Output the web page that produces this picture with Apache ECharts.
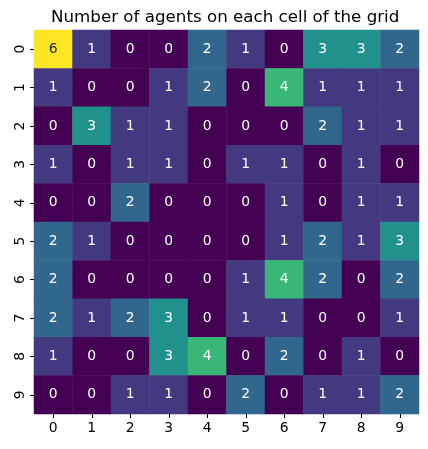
<!DOCTYPE html>
<html>
<head>
<meta charset="utf-8">
<script src="https://cdn.jsdelivr.net/npm/echarts@6/dist/echarts.min.js"></script>
<style>html,body{margin:0;padding:0;background:#fff;}#c{width:428px;height:449px;}</style>
</head>
<body>
<div id="c"></div>
<script>
const xLabels = ['0','1','2','3','4','5','6','7','8','9'];
const yLabels = ['0','1','2','3','4','5','6','7','8','9'];
const grid = [
  [6,1,0,0,2,1,0,3,3,2],
  [1,0,0,1,2,0,4,1,1,1],
  [0,3,1,1,0,0,0,2,1,1],
  [1,0,1,1,0,1,1,0,1,0],
  [0,0,2,0,0,0,1,0,1,1],
  [2,1,0,0,0,0,1,2,1,3],
  [2,0,0,0,0,1,4,2,0,2],
  [2,1,2,3,0,1,1,0,0,1],
  [1,0,0,3,4,0,2,0,1,0],
  [0,0,1,1,0,2,0,1,1,2]
];
const viridis = ['#440154','#482475','#414487','#355f8d','#2a788e','#21918c','#22a884','#44bf70','#7ad151','#bddf26','#fde725'];

const data = [];
grid.forEach((row, r) => row.forEach((v, c) => {
  data.push({ value: [c, r, v], label: { color: v >= 5 ? '#262626' : '#ffffff' } });
}));

const chart = echarts.init(document.getElementById('c'));
chart.setOption({
  animation: false,
  title: {
    text: 'Number of agents on each cell of the grid',
    left: 46, top: 4,
    textStyle: { fontFamily: 'DejaVu Sans', fontSize: 16.7, fontWeight: 'normal', color: '#000' }
  },
  grid: { left: 34, top: 30, width: 385, height: 384 },
  xAxis: {
    type: 'category', data: xLabels, position: 'bottom',
    axisLine: { show: false },
    axisTick: { show: true, alignWithLabel: true, length: 4, lineStyle: { color: '#000' } },
    axisLabel: { fontFamily: 'DejaVu Sans', fontSize: 13.9, color: '#000', margin: 7 },
    splitLine: { show: false }
  },
  yAxis: {
    type: 'category', data: yLabels, inverse: true,
    axisLine: { show: false },
    axisTick: { show: true, alignWithLabel: true, length: 4, lineStyle: { color: '#000' } },
    axisLabel: { fontFamily: 'DejaVu Sans', fontSize: 13.9, color: '#000', rotate: 90, margin: 7 },
    splitLine: { show: false }
  },
  visualMap: { show: false, min: 0, max: 6, dimension: 2, inRange: { color: viridis } },
  series: [{
    type: 'heatmap',
    data: data,
    label: { show: true, fontFamily: 'DejaVu Sans', fontSize: 13.9, formatter: p => p.value[2] },
    itemStyle: { borderWidth: 0 },
    emphasis: { disabled: true }
  }]
});
</script>
</body>
</html>
